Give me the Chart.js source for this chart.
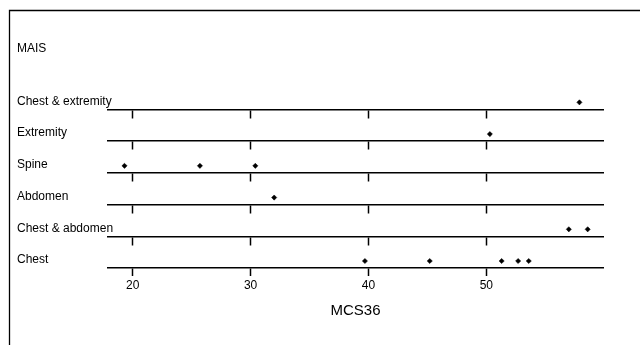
<!DOCTYPE html>
<html>
<head>
<meta charset="utf-8">
<script src="https://cdn.jsdelivr.net/npm/chart.js@4/dist/chart.umd.min.js"></script>
<style>
  html, body { margin: 0; padding: 0; background: #fff; }
  canvas { display: block; }
</style>
</head>
<body>
<canvas id="c" width="640" height="345"></canvas>
<script>
// Categories, listed top to bottom as in the chart
const CATEGORIES = ['Chest & extremity', 'Extremity', 'Spine', 'Abdomen', 'Chest & abdomen', 'Chest'];

// MCS36 values per MAIS category
const chestExtremity = [57.9];
const extremity      = [50.3];
const spine          = [19.3, 25.7, 30.4];
const abdomen        = [32.0];
const chestAbdomen   = [57.0, 58.6];
const chest          = [39.7, 45.2, 51.3, 52.7, 53.6];

const SERIES = [chestExtremity, extremity, spine, abdomen, chestAbdomen, chest];

// Axis settings
const X_TICKS = [20, 30, 40, 50];
const X_MIN = 17.9;
const X_MAX = 59.9;
const X_TITLE = 'MCS36';
const Y_TITLE = 'MAIS';

// ---- build chart structures ----
const N = CATEGORIES.length;
const catIndex = k => N - 1 - k;   // bottom category = 0
const LINE_GAP = 0.22;             // panel rule sits just below its dots

const points = [];
SERIES.forEach((vals, k) => vals.forEach(v => points.push({ x: v, y: catIndex(k) })));

const FONT = "'Liberation Sans', Arial, Helvetica, sans-serif";
const Y_AXIS_WIDTH = 91;

function ruleAxis(yValue, showLabels) {
  return {
    type: 'linear',
    axis: 'x',
    min: X_MIN, max: X_MAX,
    position: showLabels ? 'bottom' : { y: yValue },
    afterBuildTicks: s => { s.ticks = X_TICKS.map(v => ({ value: v })); },
    ticks: {
      display: showLabels,
      includeBounds: false,
      color: '#000',
      padding: 2,
      font: { family: FONT, size: 12 },
      maxRotation: 0
    },
    grid: {
      display: true,
      drawOnChartArea: false,
      drawTicks: true,
      tickLength: 8,
      tickWidth: 1.5,
      tickColor: '#000'
    },
    border: { display: true, color: '#000', width: 1.5 },
    title: showLabels ? {
      display: true, text: X_TITLE, color: '#000',
      font: { family: FONT, size: 15 },
      padding: { top: 7.6, bottom: 25 }
    } : { display: false }
  };
}

const scales = {
  x: ruleAxis(-LINE_GAP, true),
  y: {
    type: 'linear',
    position: 'left',
    min: -LINE_GAP, max: N - 0.5,
    afterBuildTicks: s => { s.ticks = CATEGORIES.map((_, k) => ({ value: catIndex(k) })); },
    afterFit: s => { s.width = Y_AXIS_WIDTH; },
    ticks: {
      mirror: true,
      crossAlign: 'near',
      padding: -Y_AXIS_WIDTH,
      labelOffset: -1,
      color: '#000',
      font: { family: FONT, size: 12 },
      callback: v => CATEGORIES[N - 1 - v]
    },
    grid: { display: false },
    border: { display: false }
  }
};
for (let i = 1; i < N; i++) {
  scales['x' + i] = ruleAxis(i - LINE_GAP, false);
}

const framePlugin = {
  id: 'frame',
  beforeDraw(chart) {
    const ctx = chart.ctx;
    ctx.save();
    ctx.fillStyle = '#fff';
    ctx.fillRect(0, 0, chart.width, chart.height);
    ctx.strokeStyle = '#000';
    ctx.lineWidth = 1.3;
    ctx.beginPath();
    ctx.moveTo(9.5, chart.height);
    ctx.lineTo(9.5, 10.5);
    ctx.lineTo(chart.width, 10.5);
    ctx.stroke();
    ctx.restore();
  }
};

new Chart(document.getElementById('c'), {
  type: 'scatter',
  data: {
    datasets: [{
      data: points,
      pointStyle: 'rectRot',
      pointRadius: 2.6,
      pointBackgroundColor: '#000',
      pointBorderColor: '#000',
      pointBorderWidth: 0.5
    }]
  },
  options: {
    responsive: false,
    animation: false,
    devicePixelRatio: 1,
    layout: { padding: { left: 17, right: 37, top: 0, bottom: 0 } },
    plugins: {
      legend: { display: false },
      tooltip: { enabled: false },
      title: {
        display: true, text: Y_TITLE, align: 'start', color: '#000',
        font: { family: FONT, size: 12, weight: 'normal' },
        padding: { top: 41.5, bottom: 30.6 }
      }
    },
    scales
  },
  plugins: [framePlugin]
});
</script>
</body>
</html>
